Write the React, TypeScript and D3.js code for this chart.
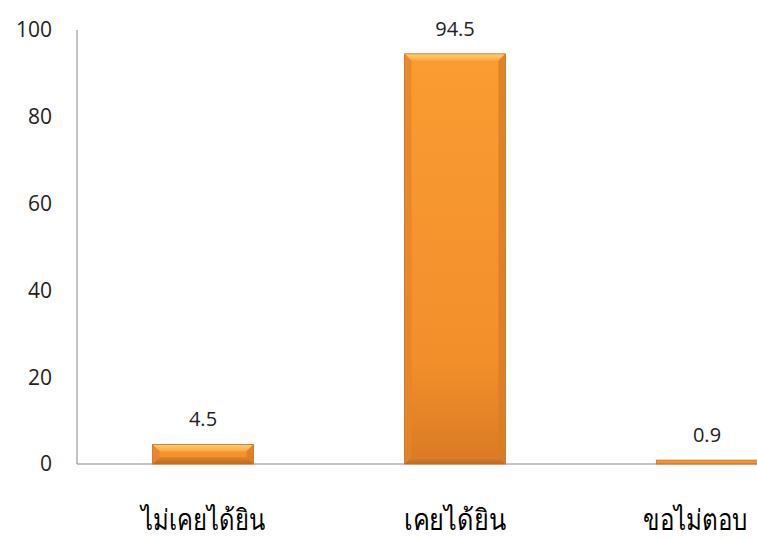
import React from "react";
import * as d3 from "d3";

const categories = ["ไม่เคยได้ยิน", "เคยได้ยิน", "ขอไม่ตอบ"];
const values = [4.5, 94.5, 0.9];
const yTicks = [0, 20, 40, 60, 80, 100];

const W = 757;
const H = 538;

export default function App() {
  const left = 77;
  const x = d3.scaleBand<string>().domain(categories).range([left, 833]).paddingInner(0.6).paddingOuter(0.3);
  const y = d3.scaleLinear().domain([0, 100]).range([464, 30]);
  const bw = x.bandwidth();
  const labelWidths = [124, 102, 104];

  return (
    <svg width={W} height={H} style={{ position: "absolute", left: 0, top: 0, background: "#fff" }}>
      <defs>
        <linearGradient id="main" x1="0" y1="0" x2="0" y2="1">
          <stop offset="0" stopColor="#FA9C32" />
          <stop offset="0.75" stopColor="#F28F2B" />
          <stop offset="1" stopColor="#D97A24" />
        </linearGradient>
        <linearGradient id="topB" x1="0" y1="0" x2="0" y2="1">
          <stop offset="0" stopColor="#FDD27A" />
          <stop offset="1" stopColor="#F9A53C" />
        </linearGradient>
        <linearGradient id="botB" x1="0" y1="0" x2="0" y2="1">
          <stop offset="0" stopColor="#E0812A" />
          <stop offset="1" stopColor="#B9651C" />
        </linearGradient>
      </defs>
      {/* axes */}
      <line x1={left} x2={W} y1={y(0)} y2={y(0)} stroke="#868686" strokeWidth={1} />
      <line x1={left} x2={left} y1={y(100)} y2={y(0)} stroke="#868686" strokeWidth={1} />
      {yTicks.map((t) => (
        <text key={t} x={52} y={y(t)} dy="0.35em" textAnchor="end" fontFamily="Open Sans, Liberation Sans, sans-serif" fontSize={21} fill="#222">
          {t}
        </text>
      ))}
      {categories.map((c, i) => {
        const x0 = x(c)!;
        const y0 = y(values[i]);
        const y1 = y(0);
        const h = y1 - y0;
        const b = Math.min(7, h / 2.2);
        const lw = labelWidths[i];
        const lc = Math.min(x0 + bw / 2, W - 10 - lw / 2);
        return (
          <g key={c}>
            <rect x={x0} y={y0} width={bw} height={h} fill="url(#main)" />
            {h > 6 && (
              <>
                <polygon points={`${x0},${y0} ${x0 + bw},${y0} ${x0 + bw - b},${y0 + b} ${x0 + b},${y0 + b}`} fill="url(#topB)" />
                <polygon points={`${x0},${y1} ${x0 + bw},${y1} ${x0 + bw - b},${y1 - b} ${x0 + b},${y1 - b}`} fill="url(#botB)" opacity={0.85} />
                <polygon points={`${x0},${y0} ${x0 + b},${y0 + b} ${x0 + b},${y1 - b} ${x0},${y1}`} fill="#E5852A" opacity={0.8} />
                <polygon points={`${x0 + bw},${y0} ${x0 + bw - b},${y0 + b} ${x0 + bw - b},${y1 - b} ${x0 + bw},${y1}`} fill="#DB7C24" opacity={0.8} />
              </>
            )}
            <rect x={x0} y={y0} width={bw} height={h} fill="none" stroke="#C8701F" strokeWidth={0.8} />
            <text x={x0 + bw / 2} y={y0 - 18} textAnchor="middle" fontFamily="Open Sans, Liberation Sans, sans-serif" fontSize={20} fill="#222">
              {values[i]}
            </text>
            <text x={lc} y={530} textAnchor="middle" fontFamily="DejaVu Serif, serif" fontSize={29} fill="#000" textLength={lw} lengthAdjust="spacingAndGlyphs">
              {c}
            </text>
          </g>
        );
      })}
    </svg>
  );
}
